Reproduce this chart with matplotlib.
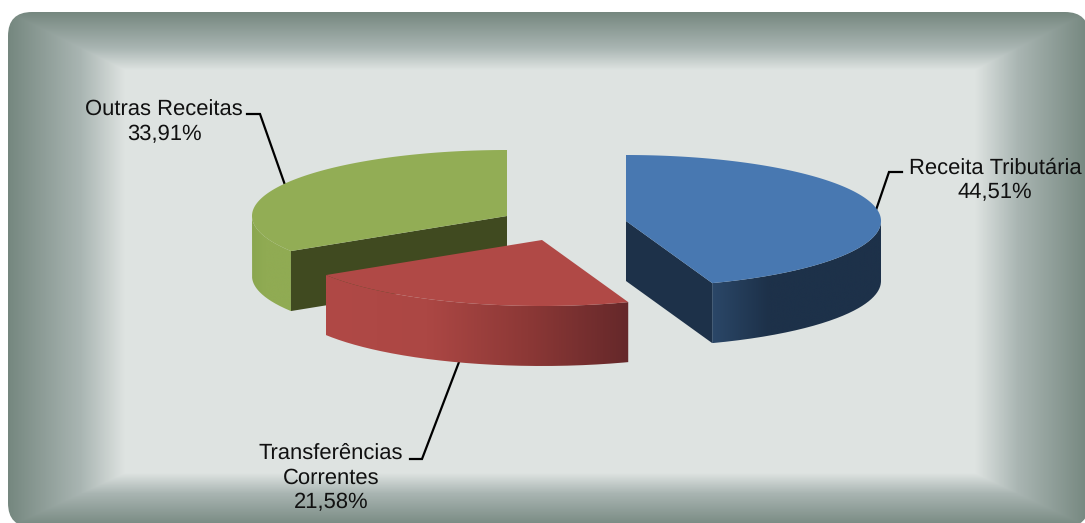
"""Revenue shares as a fake-3D exploded pie on a bevelled panel."""

import numpy as np
import matplotlib
matplotlib.use("Agg")
import matplotlib.pyplot as plt
from matplotlib.colors import LinearSegmentedColormap
from matplotlib.patches import FancyBboxPatch, PathPatch, Polygon
from matplotlib.path import Path

labels = ["Receita Tributária", "Transferências\nCorrentes", "Outras Receitas"]
shares = [44.51, 21.58, 33.91]
share_text = ["44,51%", "21,58%", "33,91%"]

# pie geometry, in pixels
apex = [(626, 221), (542, 240), (507, 216)]
RX, RY, DEPTH = 255, 66, 60

top_colors = ["#4878B1", "#B04946", "#92AD55"]
inner_colors = ["#1D3149", None, "#404A20"]
wall_stops = [
    ["#2B4768", "#1D3149", "#1D3149", "#1D3149"],
    ["#B04946", "#AC4744", "#8C3836", "#65282A"],
    ["#8AA64F", "#90AB53", "#90AB53", "#90AB53"],
]

label_pos = [(995, 180), (331, 478), (164, 122)]
leaders = [
    [(902, 172), (889, 172), (876, 210)],
    [(410, 459), (422, 459), (459, 362)],
    [(247, 114), (260, 114), (285, 185)],
]

plt.rcParams["font.family"] = ["Liberation Sans", "DejaVu Sans"]
plt.rcParams["text.hinting"] = "none"
plt.rcParams["text.hinting_factor"] = 1


def rim(center, theta):
    # theta is clockwise from 12 o'clock, in degrees
    t = np.radians(theta)
    return np.column_stack((center[0] + RX * np.sin(t), center[1] - RY * np.cos(t)))


def gradient_fill(ax, pts, stops, zorder):
    cmap = LinearSegmentedColormap.from_list("wall", stops)
    clip = PathPatch(Path(np.vstack((pts, pts[:1]))), fc="none", ec="none", transform=ax.transData)
    ax.add_patch(clip)
    x0, x1 = pts[:, 0].min(), pts[:, 0].max()
    y0, y1 = pts[:, 1].min(), pts[:, 1].max()
    im = ax.imshow(np.linspace(0, 1, 256)[None, :], cmap=cmap, extent=(x0, x1, y1, y0),
                   aspect="auto", zorder=zorder, interpolation="bilinear")
    im.set_clip_path(clip)


def panel(ax):
    x0, x1, y0, y1 = 8, 1089, 12, 527
    r = 24
    xs = np.arange(x0, x1) + 0.5
    ys = np.arange(y0, y1) + 0.5
    tx = np.minimum((xs - x0) / 117, (x1 - xs) / 114)
    ty = np.minimum((ys - y0) / 58, (y1 - ys) / 54)
    t = np.clip(np.minimum.outer(ty, tx), 0, 1)
    cmap = LinearSegmentedColormap.from_list(
        "bevel", [(0, "#75877F"), (0.62, "#A9B5B2"), (1, "#DEE3E1")])
    box = FancyBboxPatch((x0 + r, y0 + r), x1 - x0 - 2 * r, y1 - y0 - 2 * r,
                         boxstyle=f"round,pad={r},rounding_size={r}", fc="none", ec="none")
    ax.add_patch(box)
    im = ax.imshow(t, cmap=cmap, vmin=0, vmax=1, extent=(x0, x1, y1, y0),
                   aspect="auto", zorder=1, interpolation="nearest")
    im.set_clip_path(box)


def main():
    fig = plt.figure(figsize=(10.85, 5.23), dpi=100)
    ax = fig.add_axes([0, 0, 1, 1])
    panel(ax)

    edges = np.concatenate(([0], np.cumsum(shares))) * 3.6
    # back to front so the nearer slices overlap the green one
    for i in [2, 1, 0]:
        start, end = edges[i], edges[i + 1]
        z = 3 + (2 - i)
        c = np.array(apex[i], dtype=float)
        drop = np.array([0, DEPTH])
        arc = rim(c, np.linspace(start, end, 200))

        # outer wall, only the part turned towards the viewer
        wall = rim(c, np.linspace(max(start, 90), min(end, 270), 200))
        gradient_fill(ax, np.vstack((wall, wall[::-1] + drop)), wall_stops[i], z)

        # cut face, only green and blue show one
        if inner_colors[i] is not None:
            edge = rim(c, [start if i == 2 else end])[0]
            ax.add_patch(Polygon([c, edge, edge + drop, c + drop], fc=inner_colors[i], ec="none", zorder=z))

        ax.add_patch(Polygon(np.vstack((c[None, :], arc)), fc=top_colors[i], ec="none", zorder=z + 0.5))

    for pts in leaders:
        xs, ys = zip(*pts)
        ax.plot(xs, ys, color="black", lw=1.6, zorder=2.5, solid_joinstyle="miter")

    for name, pct, pos in zip(labels, share_text, label_pos):
        ax.text(pos[0], pos[1], f"{name}\n{pct}", ha="center", va="center", fontsize=15.9,
                color="#111111", linespacing=1.26, zorder=8)

    ax.set_xlim(0, 1085)
    ax.set_ylim(523, 0)
    ax.axis("off")
    fig.savefig("out.png", dpi=100, facecolor="white")


if __name__ == "__main__":
    main()
